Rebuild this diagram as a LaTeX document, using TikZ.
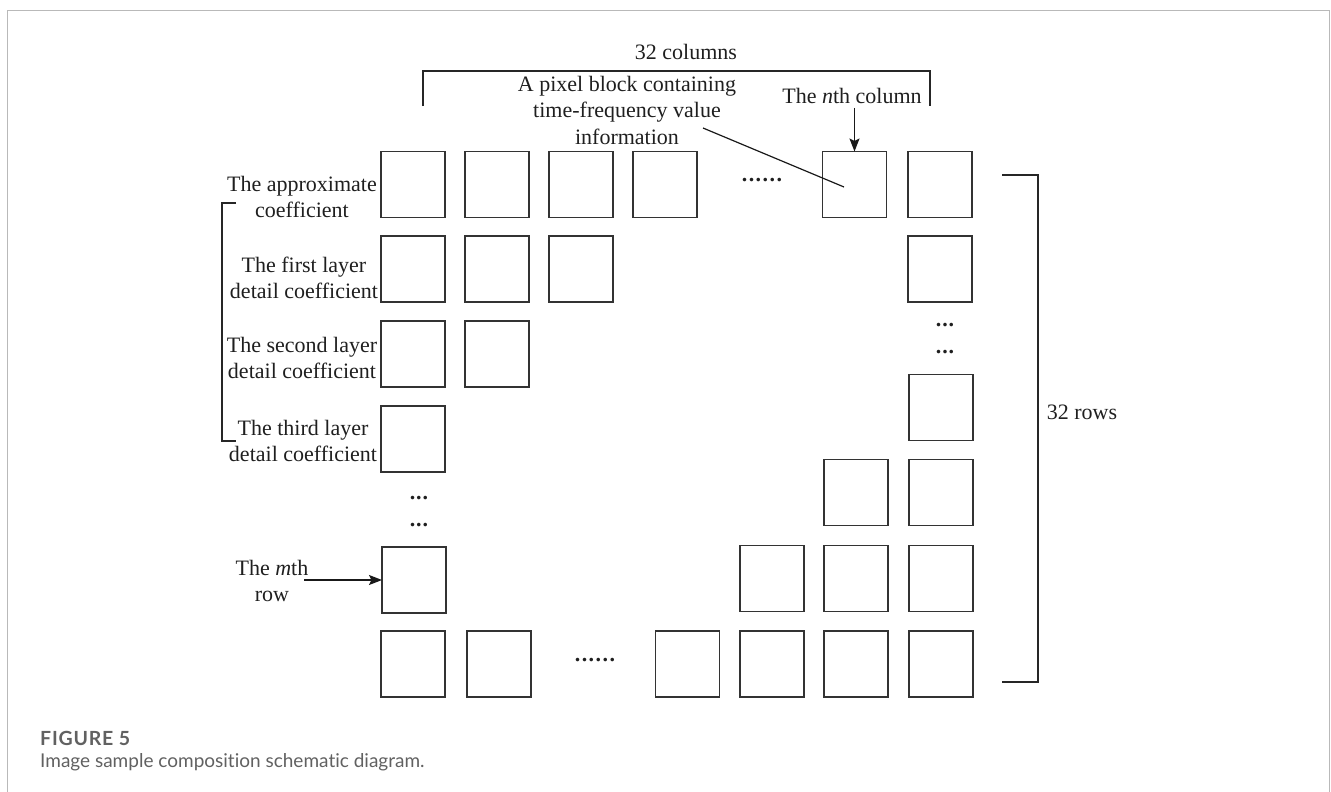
\documentclass[tikz,border=0pt]{standalone}
\usepackage{fontspec}
\setmainfont{Liberation Serif}
\newfontfamily\capfont[Ligatures=NoCommon]{Lato}
\newfontfamily\capbold[LetterSpace=4]{Lato Bold}
\usetikzlibrary{arrows.meta}
\newcommand{\sixdots}{.\kern1.5pt.\kern1.5pt.\kern1.5pt.\kern1.5pt.\kern1.5pt.}
\newcommand{\threedots}{.\kern0.8pt.\kern0.8pt.}
\begin{document}
\begin{tikzpicture}[x=1pt,y=-1pt,
  cell/.style={draw=black!80, line width=1.3pt, minimum width=64pt, minimum height=66pt, inner sep=0pt, outer sep=0pt},
  lbl/.style={font=\fontsize{22}{26.5}\selectfont, text=black!88, align=center, inner sep=0pt},
  dotlbl/.style={font=\bfseries\fontsize{22}{26.5}\selectfont, text=black!88, inner sep=0pt},
  brk/.style={line width=1.6pt, draw=black!85},
  ptr/.style={line width=1.2pt, draw=black!90},
  arr/.style={line width=1.3pt, draw=black!90, -{Stealth[length=13pt,width=10pt,inset=2.5pt]}},
  captxt/.style={text=black!62, anchor=west, inner sep=0pt}
]
\useasboundingbox (0,0) rectangle (1331,792);
\draw[gray!55, line width=1pt] (7,792) -- (7,11) -- (1329,11) -- (1329,792);

% row 1
\node[cell] (a1) at (413,184.5) {};
\node[cell] (a2) at (497,184.5) {};
\node[cell] (a3) at (581,184.5) {};
\node[cell] (a4) at (665,184.5) {};
\node[dotlbl] (adots) at (762,180) {\sixdots};
\node[cell] (an) at (854.5,184.5) {};
\node[cell] (alast) at (940,184.5) {};
% row 2
\node[cell] (b1) at (413,269) {};
\node[cell] (b2) at (497,269) {};
\node[cell] (b3) at (581,269) {};
\node[cell] (blast) at (940,269) {};
% row 3
\node[cell] (c1) at (413,354) {};
\node[cell] (c2) at (497,354) {};
% row 4
\node[cell] (d1) at (413,439) {};
% left dots
\node[dotlbl] (ldots1) at (419,498) {\threedots};
\node[dotlbl] (ldots2) at (419,525) {\threedots};
% right column
\node[dotlbl] (rdots1) at (945,325) {\threedots};
\node[dotlbl] (rdots2) at (945,352) {\threedots};
\node[cell] (r1) at (941,407.5) {};
\node[cell] (s3) at (856,492.5) {};
\node[cell] (s4) at (941,492.5) {};
% m-th row
\node[cell] (m1) at (414,580) {};
\node[cell] (t2) at (772,578.5) {};
\node[cell] (t3) at (856,578.5) {};
\node[cell] (t4) at (941,578.5) {};
% bottom row
\node[cell] (z1) at (413,664) {};
\node[cell] (z2) at (499,664) {};
\node[dotlbl] (zdots) at (595,660) {\sixdots};
\node[cell] (z3) at (687.5,664) {};
\node[cell] (z4) at (772,664) {};
\node[cell] (z5) at (856,664) {};
\node[cell] (z6) at (941,664) {};

% left labels
\node[lbl] (lapprox) at (302,197) {The approximate\\coefficient};
\node[lbl] (lfirst) at (304,278) {The first layer\\detail coefficient};
\node[lbl] (lsecond) at (302,358) {The second layer\\detail coefficient};
\node[lbl] (lthird) at (303,441) {The third layer\\detail coefficient};
\node[lbl] (lm) at (272,581) {The \textit{m}th\\row};
\draw[arr] (304,580) -- (m1.west);

% left bracket
\draw[brk] (236,203) -- (222,203) -- (222,441) -- (236,441);

% top bracket
\node[lbl] (lcols) at (686,52) {32 columns};
\draw[brk] (423,106) -- (423,71) -- (930,71) -- (930,106);
\node[lbl] (lblock) at (627,110) {A pixel block containing\\time-frequency value\\information};
\coordinate (pstart) at (703,128);
\coordinate (pend) at (844,187);
\draw[ptr] (pstart) -- (pend);
\node[lbl] (lncol) at (852,96) {The \textit{n}th column};
\draw[arr] (lncol.south -| an.north) ++(0,4) -- (an.north);

% right bracket
\draw[brk] (1002,175) -- (1038,175) -- (1038,682) -- (1002,682);
\node[lbl] (lrows) at (1082,412) {32 rows};

% caption
\node[captxt, font=\capbold\fontsize{19.5}{22}\selectfont] (fig) at (40,738) {FIGURE 5};
\node[captxt, font=\capfont\fontsize{19}{22}\selectfont] (captext) at (40,762) {Image sample composition schematic diagram.};
\end{tikzpicture}
\end{document}
